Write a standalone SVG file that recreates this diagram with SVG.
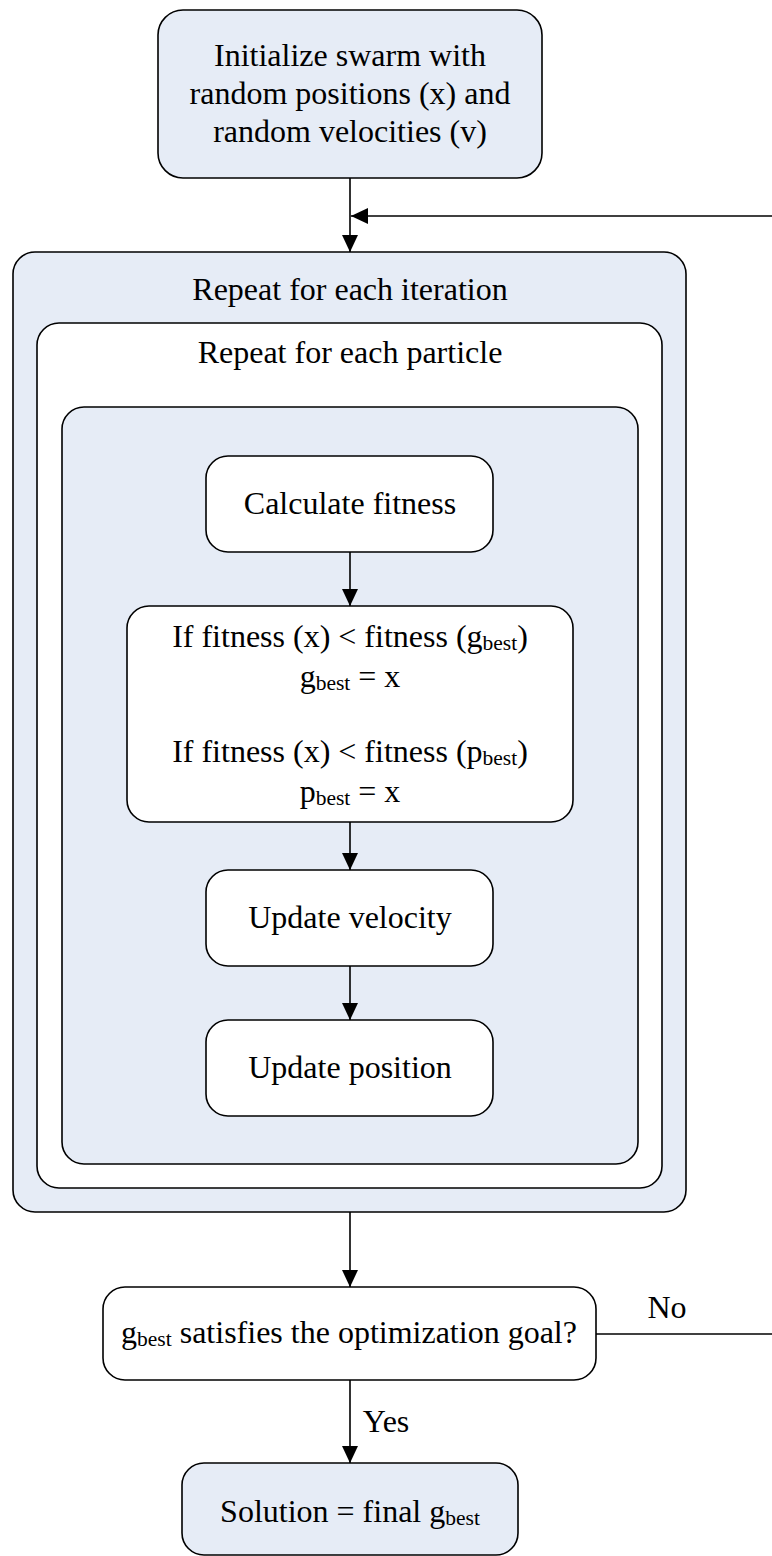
<svg xmlns="http://www.w3.org/2000/svg" width="772" height="1556" viewBox="0 0 772 1556">
<style>
.box{stroke:#000;stroke-width:1.6}
.blue{fill:#e6ecf6}
.white{fill:#fff}
.t{font-family:"Liberation Serif","Times New Roman",serif;font-size:32px;fill:#000;text-anchor:middle}
.s{font-size:21.5px}
.ln{stroke:#000;stroke-width:1.6;fill:none}
</style>
<defs>
<marker id="ah" markerWidth="17" markerHeight="16" refX="17" refY="8" orient="auto" markerUnits="userSpaceOnUse">
<path d="M0,0 L17,8 L0,16 Z" fill="#000"/>
</marker>
</defs>
<rect width="772" height="1556" fill="#fff"/>
<g id="init">
<rect class="box blue" x="158" y="10" width="384" height="168" rx="25"/>
<text class="t" x="350" y="66">Initialize swarm with</text>
<text class="t" x="350" y="104">random positions (x) and</text>
<text class="t" x="350" y="142">random velocities (v)</text>
</g>
<g id="iteration-loop">
<rect class="box blue" x="13" y="252" width="673" height="960" rx="22"/>
<text class="t" x="350" y="300">Repeat for each iteration</text>
</g>
<g id="particle-loop">
<rect class="box white" x="37" y="323" width="625" height="865" rx="22"/>
<text class="t" x="350" y="363">Repeat for each particle</text>
</g>
<g id="particle-body">
<rect class="box blue" x="62" y="407" width="576" height="757" rx="22"/>
</g>
<g id="calc-fitness">
<rect class="box white" x="206" y="456" width="287" height="96" rx="22"/>
<text class="t" x="350" y="514">Calculate fitness</text>
</g>
<g id="update-best">
<rect class="box white" x="127" y="606" width="446" height="216" rx="22"/>
<text class="t" x="350" y="647">If fitness (x) &lt; fitness (g<tspan class="s" dy="3">best</tspan><tspan dy="-3">)</tspan></text>
<text class="t" x="350" y="687">g<tspan class="s" dy="3">best</tspan><tspan dy="-3"> = x</tspan></text>
<text class="t" x="350" y="762">If fitness (x) &lt; fitness (p<tspan class="s" dy="3">best</tspan><tspan dy="-3">)</tspan></text>
<text class="t" x="350" y="802">p<tspan class="s" dy="3">best</tspan><tspan dy="-3"> = x</tspan></text>
</g>
<g id="update-velocity">
<rect class="box white" x="206" y="870" width="287" height="96" rx="22"/>
<text class="t" x="350" y="928">Update velocity</text>
</g>
<g id="update-position">
<rect class="box white" x="206" y="1020" width="287" height="96" rx="22"/>
<text class="t" x="350" y="1078">Update position</text>
</g>
<g id="decision">
<rect class="box white" x="103" y="1287" width="493" height="93" rx="22"/>
<text class="t" x="349" y="1343">g<tspan class="s" dy="3">best</tspan><tspan dy="-3"> satisfies the optimization goal?</tspan></text>
</g>
<g id="solution">
<rect class="box blue" x="182" y="1463" width="336" height="92" rx="22"/>
<text class="t" x="350" y="1522">Solution = final g<tspan class="s" dy="3">best</tspan></text>
</g>
<g id="connectors">
<line class="ln" x1="350" y1="178" x2="350" y2="252" marker-end="url(#ah)"/>
<line class="ln" x1="772" y1="216" x2="351" y2="216" marker-end="url(#ah)"/>
<line class="ln" x1="350" y1="552" x2="350" y2="606" marker-end="url(#ah)"/>
<line class="ln" x1="350" y1="822" x2="350" y2="870" marker-end="url(#ah)"/>
<line class="ln" x1="350" y1="966" x2="350" y2="1020" marker-end="url(#ah)"/>
<line class="ln" x1="350" y1="1212" x2="350" y2="1287" marker-end="url(#ah)"/>
<line class="ln" x1="596" y1="1334" x2="772" y2="1334"/>
<line class="ln" x1="350" y1="1380" x2="350" y2="1463" marker-end="url(#ah)"/>
<text class="t" x="667" y="1318">No</text>
<text class="t" x="386" y="1432">Yes</text>
</g>
</svg>
